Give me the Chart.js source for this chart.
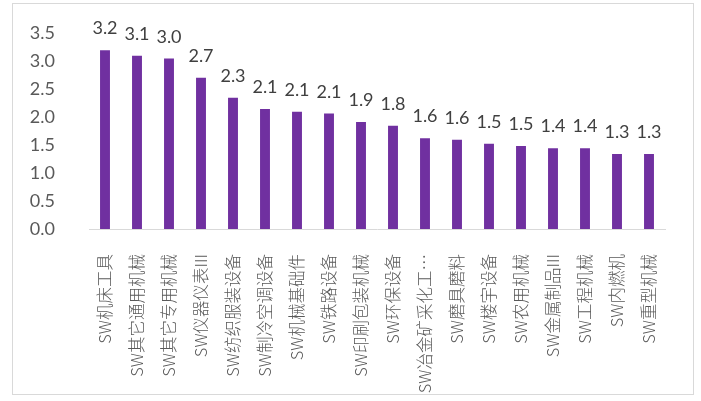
<!DOCTYPE html>
<html>
<head>
  <meta charset="utf-8">
  <script src="https://cdn.jsdelivr.net/npm/chart.js@4.4.0/dist/chart.umd.min.js"></script>
  <style>
    body { margin: 0; background: #fff; }
    #frame { position: absolute; left: 12px; top: 3px; width: 680px; height: 390px; border: 1px solid #d9d9d9; }
    #box { position: absolute; left: 13px; top: -4px; width: 680px; height: 398px; }
  </style>
</head>
<body>
  <div id="frame"></div>
  <div id="box"><canvas id="chart"></canvas></div>

  <script>
    // datos
    const categories = ['SW机床工具', 'SW其它通用机械', 'SW其它专用机械', 'SW仪器仪表III', 'SW纺织服装设备',
      'SW制冷空调设备', 'SW机械基础件', 'SW铁路设备', 'SW印刷包装机械', 'SW环保设备', 'SW冶金矿采化工…',
      'SW磨具磨料', 'SW楼宇设备', 'SW农用机械', 'SW金属制品III', 'SW工程机械', 'SW内燃机', 'SW重型机械'];
    const values = [3.19, 3.09, 3.04, 2.70, 2.34, 2.14, 2.09, 2.06, 1.91, 1.84, 1.62, 1.59, 1.52, 1.48, 1.44, 1.44, 1.34, 1.34];
    const yTicks = [0, 0.5, 1, 1.5, 2, 2.5, 3, 3.5];

    // etiquetas encima de las barras
    const barLabels = {
      id: 'barLabels',
      afterDatasetsDraw(chart) {
        const ctx = chart.ctx;
        const meta = chart.getDatasetMeta(0);
        ctx.save();
        ctx.font = '18px Lato';
        ctx.fillStyle = '#404040';
        ctx.textAlign = 'center';
        ctx.textBaseline = 'alphabetic';
        meta.data.forEach((bar, i) => {
          ctx.fillText(values[i].toFixed(1), bar.x, bar.y - 16);
        });
        ctx.restore();
      }
    };

    new Chart(document.getElementById('chart'), {
      type: 'bar',
      data: {
        labels: categories,
        datasets: [{
          data: values,
          backgroundColor: '#7030a0',
          barPercentage: 0.31,
          categoryPercentage: 1
        }]
      },
      options: {
        responsive: true,
        maintainAspectRatio: false,
        animation: false,
        layout: { padding: { top: 14, right: 28, bottom: 0, left: 0 } },
        plugins: { legend: { display: false }, tooltip: { enabled: false } },
        scales: {
          x: {
            grid: { display: false },
            border: { display: true, color: '#d9d9d9', width: 1 },
            ticks: {
              autoSkip: false,
              minRotation: 90,
              maxRotation: 90,
              padding: 17,
              color: '#595959',
              font: { family: 'Noto Sans CJK SC', size: 16.5, weight: 300 }
            },
            afterFit(axis) { axis.height = 165; }
          },
          y: {
            min: 0,
            max: 3.5,
            afterBuildTicks(axis) { axis.ticks = yTicks.map(v => ({ value: v })); },
            grid: { display: false },
            border: { display: false },
            ticks: {
              padding: 26,
              color: '#595959',
              font: { family: 'Lato', size: 18 },
              callback: v => v.toFixed(1)
            },
            afterFit(axis) { axis.width = 76; }
          }
        }
      },
      plugins: [barLabels]
    });
  </script>
</body>
</html>
